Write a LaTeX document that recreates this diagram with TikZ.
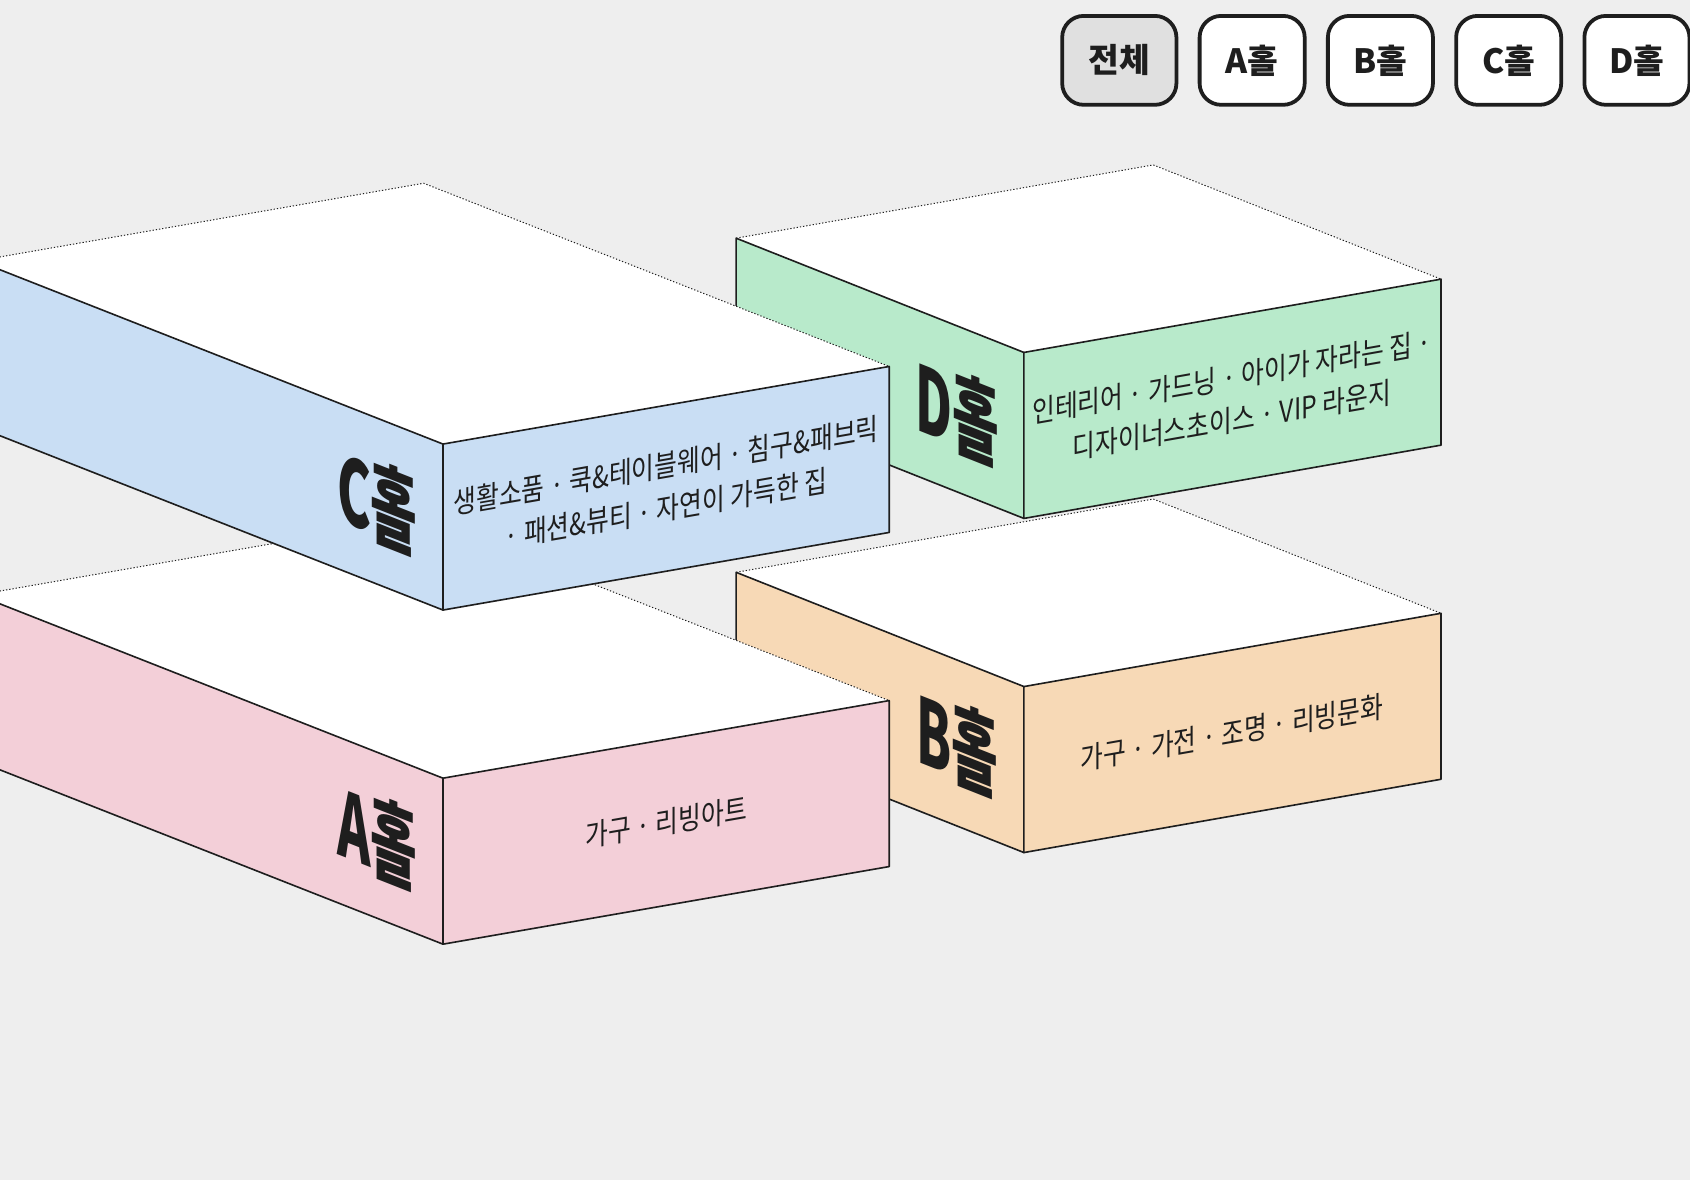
\documentclass[tikz,border=0pt]{standalone}
\usepackage{fontspec}
\setmainfont{Noto Sans CJK KR}
\usetikzlibrary{calc,positioning}

\definecolor{bgGray}{HTML}{EEEEEE}
\definecolor{btnGray}{HTML}{E0E0E0}
\definecolor{lineDark}{HTML}{1E1E1E}
\definecolor{hallBlue}{HTML}{C9DEF4}
\definecolor{hallGreen}{HTML}{B8EACB}
\definecolor{hallPink}{HTML}{F3CFD8}
\definecolor{hallOrange}{HTML}{F7D9B6}

\tikzset{
  hallline/.style={draw=lineDark, line width=1.5pt, line join=round},
  hallback/.style={draw=lineDark, line width=0.9pt, dash pattern=on 1.2pt off 1.8pt},
  hallname/.style={font=\fontsize{84}{84}\selectfont\bfseries, text=lineDark, inner sep=0pt},
  halltext/.style={font=\fontsize{28}{40}\selectfont, text=lineDark, align=center, inner sep=0pt},
  filterbtn/.style={draw=lineDark, line width=3.5pt, rounded corners=20pt, fill=white,
    minimum width=97.5pt, minimum height=82.5pt, inner sep=0pt,
    font=\fontsize{31}{31}\selectfont\bfseries, text=lineDark},
}

% one hall: name, front corner, left vector, right vector, colour
\newcommand{\hallblock}[5]{%
  \coordinate (#1front) at #2;
  \coordinate (#1left) at ($(#1front)+#3$);
  \coordinate (#1right) at ($(#1front)+#4$);
  \coordinate (#1back) at ($(#1left)+#4$);
  \fill[white] (#1front) -- (#1left) -- (#1back) -- (#1right) -- cycle;
  \draw[hallback] (#1left) -- (#1back) -- (#1right);
  \filldraw[hallline, fill=#5] (#1front) -- (#1left) -- ++(0,154) -- ($(#1front)+(0,154)$) -- cycle;
  \filldraw[hallline, fill=#5] (#1front) -- (#1right) -- ++(0,154) -- ($(#1front)+(0,154)$) -- cycle;
}

\begin{document}
\begin{tikzpicture}[x=1pt,y=-1pt]
\fill[bgGray] (0,0) rectangle (1568,1095);
\clip (0,0) rectangle (1568,1095);

% filter buttons
\node[filterbtn, fill=btnGray, minimum width=106pt] (all) at (1038.5,56) {전체};
\node[filterbtn, right=18pt of all] (btnA) {A홀};
\node[filterbtn, right=18pt of btnA] (btnB) {B홀};
\node[filterbtn, right=18pt of btnB] (btnC) {C홀};
\node[filterbtn, right=18pt of btnC] (btnD) {D홀};

% halls, back to front
\hallblock{B}{(950,637)}{(-267,-106)}{(387,-68)}{hallOrange}
\hallblock{A}{(411,722)}{(-432,-170)}{(414,-72)}{hallPink}
\hallblock{D}{(950,327)}{(-267,-106)}{(387,-68)}{hallGreen}
\hallblock{C}{(411,412)}{(-432,-170)}{(414,-72)}{hallBlue}

% hall names on the left faces
\node[hallname, cm={0.56,-0.221,0,1,(0,0)}] (Cname) at (350,465) {C홀};
\node[hallname, cm={0.56,-0.222,0,1,(0,0)}] (Dname) at (888,382) {D홀};
\node[hallname, cm={0.56,-0.221,0,1,(0,0)}] (Aname) at (350,776) {A홀};
\node[hallname, cm={0.56,-0.222,0,1,(0,0)}] (Bname) at (888,690) {B홀};

% categories on the right faces
\node[halltext, cm={0.82,0.143,0,1,(0,0)}] (Ctext) at (618,452)
  {생활소품 · 쿡\&테이블웨어 · 침구\&패브릭\\· 패션\&뷰티 · 자연이 가득한 집};
\node[halltext, cm={0.82,0.145,0,1,(0,0)}] (Dtext) at (1143,370)
  {인테리어 · 가드닝 · 아이가 자라는 집 ·\\디자이너스초이스 · VIP 라운지};
\node[halltext, cm={0.82,0.143,0,1,(0,0)}] (Atext) at (618,763) {가구 · 리빙아트};
\node[halltext, cm={0.82,0.145,0,1,(0,0)}] (Btext) at (1143,680) {가구 · 가전 · 조명 · 리빙문화};
\end{tikzpicture}
\end{document}
